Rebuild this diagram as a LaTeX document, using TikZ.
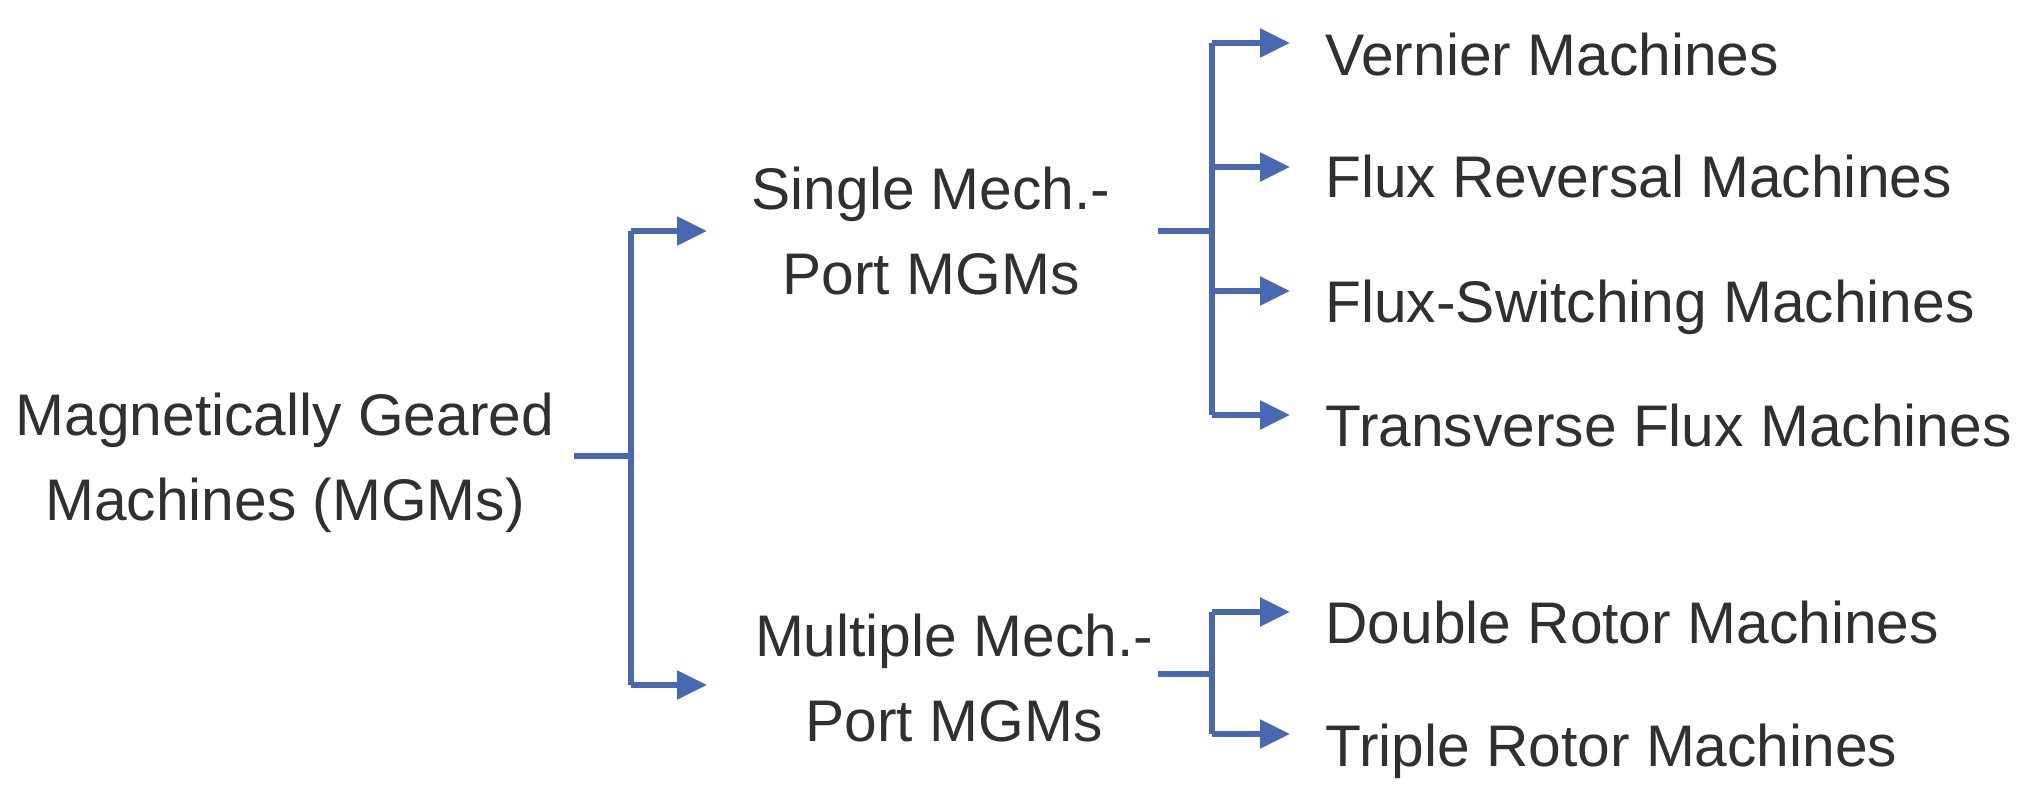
\documentclass[tikz,border=0pt]{standalone}
\usepackage{fontspec}
\setmainfont{Liberation Sans}
\usetikzlibrary{arrows.meta}
\definecolor{linecol}{RGB}{72,104,178}
\definecolor{txtcol}{RGB}{48,48,48}
\tikzset{
  lbl/.style={inner sep=0pt, text=txtcol, font=\fontsize{29.35pt}{42.5pt}\selectfont},
  mlbl/.style={lbl, align=center},
  conn/.style={draw=linecol, line width=2.8pt},
  arr/.style={conn, -{Triangle[length=15pt,width=14pt]}}
}
\begin{document}
\begin{tikzpicture}[x=0.5pt,y=-0.5pt]
\useasboundingbox (0,0) rectangle (2033,810);
% labels
\node[mlbl] (root) at (285,463) {Magnetically Geared\\Machines (MGMs)};
\node[mlbl] (single) at (931,231) {Single Mech.-\\Port MGMs};
\node[mlbl] (multi) at (954,678) {Multiple Mech.-\\Port MGMs};
\node[lbl, anchor=base west] (vern) at (1325,75) {Vernier Machines};
\node[lbl, anchor=base west] (frev) at (1325,197) {Flux Reversal Machines};
\node[lbl, anchor=base west] (fsw) at (1325,322) {Flux-Switching Machines};
\node[lbl, anchor=base west] (tfm) at (1325,446) {Transverse Flux Machines};
\node[lbl, anchor=base west] (drm) at (1325,643) {Double Rotor Machines};
\node[lbl, anchor=base west] (trm) at (1325,766) {Triple Rotor Machines};
% branch coordinates
\coordinate (r0) at (574,456);
\coordinate (r1) at (631,456);
\coordinate (rt) at (631,231);
\coordinate (rb) at (631,685);
\coordinate (rte) at (707,231);
\coordinate (rbe) at (707,685);
\coordinate (s0) at (1158,231);
\coordinate (s1) at (1212,231);
\coordinate (st) at (1212,43);
\coordinate (sb) at (1212,415);
\coordinate (m0) at (1158,674);
\coordinate (m1) at (1212,674);
\coordinate (mt) at (1212,612);
\coordinate (mb) at (1212,734);
% root tree
\draw[conn] (r0) -- (r1);
\draw[conn] (rt) -- (rb);
\draw[arr] (rt) -- (rte);
\draw[arr] (rb) -- (rbe);
% single tree
\draw[conn] (s0) -- (s1);
\draw[conn] (st) -- (sb);
\draw[arr] (st) -- (1290,43);
\draw[arr] (1212,167) -- (1290,167);
\draw[arr] (1212,291) -- (1290,291);
\draw[arr] (sb) -- (1290,415);
% multiple tree
\draw[conn] (m0) -- (m1);
\draw[conn] (mt) -- (mb);
\draw[arr] (mt) -- (1290,612);
\draw[arr] (mb) -- (1290,734);
\end{tikzpicture}
\end{document}
